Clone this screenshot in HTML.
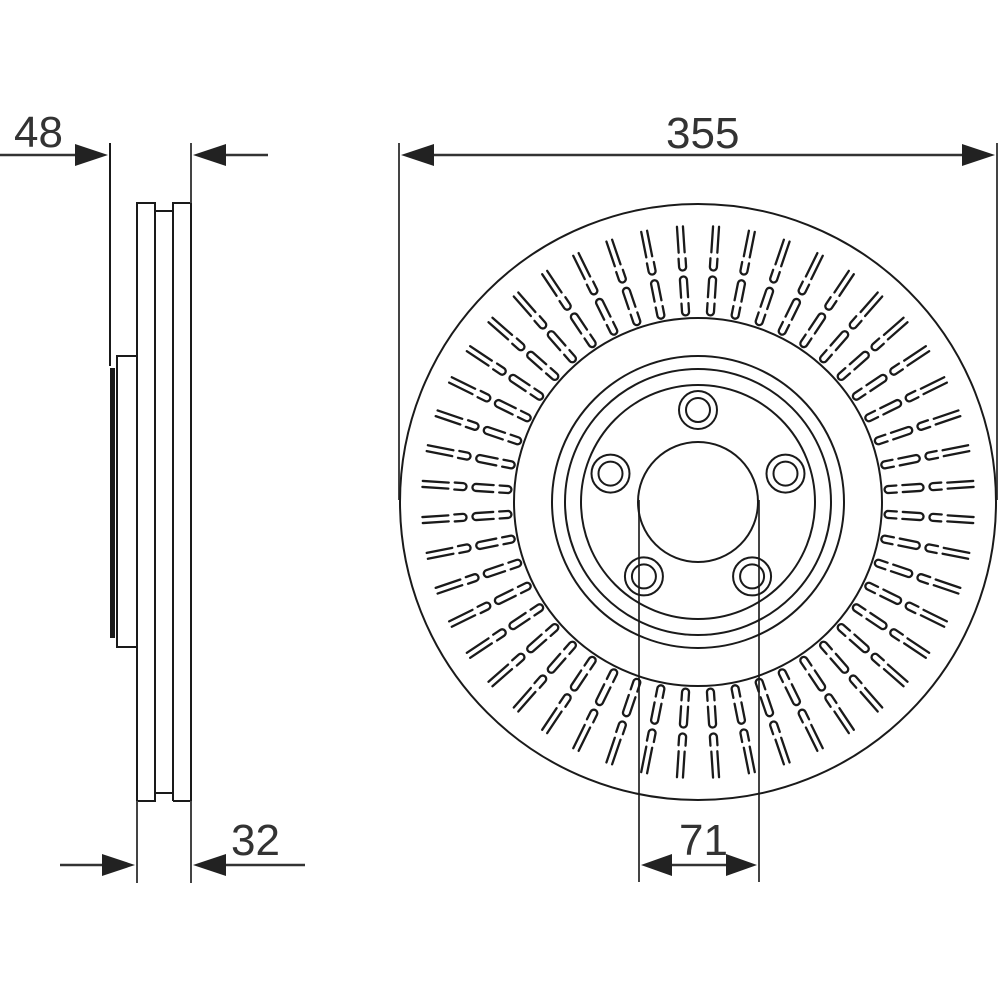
<!DOCTYPE html>
<html><head><meta charset="utf-8"><style>
html,body{margin:0;padding:0;background:#fff;}
svg{display:block;}
text{font-family:"Liberation Sans",sans-serif;font-size:44px;fill:#333;}
</style></head><body>
<svg id="s" width="1000" height="1000" viewBox="0 0 1000 1000" xmlns="http://www.w3.org/2000/svg">
<g fill="none" stroke="#1a1a1a" stroke-width="2">
  <polyline points="137,801 137,203 155,203 155,801 137,801"/>
  <polyline points="155,211 173,211 173,793 155,793"/>
  <polyline points="173,801 173,203 191,203 191,801 173,801"/>
  <polyline points="137,356 117,356 117,647 137,647"/>
  <line x1="110" y1="143" x2="110" y2="366"/>
  <rect x="110" y="368" width="5" height="270" fill="#1a1a1a" stroke="none"/>
  <line x1="137" y1="801" x2="137" y2="883" stroke="#444"/>
  <line x1="191" y1="143" x2="191" y2="203" stroke="#444"/>
  <line x1="191" y1="801" x2="191" y2="883" stroke="#444"/>
  <line x1="0" y1="155" x2="80" y2="155" stroke="#333" stroke-width="2.5"/>
  <line x1="220" y1="155" x2="268" y2="155" stroke="#333" stroke-width="2.5"/>
  <line x1="60" y1="865" x2="110" y2="865" stroke="#333" stroke-width="2.5"/>
  <line x1="220" y1="865" x2="305" y2="865" stroke="#333" stroke-width="2.5"/>
  <line x1="399" y1="143" x2="399" y2="500" stroke="#444"/>
  <line x1="997" y1="143" x2="997" y2="500" stroke="#444"/>
  <line x1="425" y1="155" x2="970" y2="155" stroke="#333" stroke-width="2.5"/>
  <line x1="639" y1="500" x2="639" y2="882" stroke="#444"/>
  <line x1="759" y1="500" x2="759" y2="882" stroke="#444"/>
  <line x1="665" y1="865" x2="735" y2="865" stroke="#333" stroke-width="2.5"/>
  <circle cx="698" cy="502" r="298"/>
  <circle cx="698" cy="502" r="184"/>
  <circle cx="698" cy="502" r="146"/>
  <circle cx="698" cy="502" r="133"/>
  <circle cx="698" cy="502" r="117"/>
  <circle cx="698" cy="502" r="60"/>
  <g id="holes"></g>
  <g id="vents" stroke-width="2.3" stroke-linecap="round"></g>
</g>
<g fill="#222">
  <polygon points="108,155 75,144 75,166"/>
  <polygon points="193,155 226,144 226,166"/>
  <polygon points="135,865 102,854 102,876"/>
  <polygon points="193,865 226,854 226,876"/>
  <polygon points="401,155 434,144 434,166"/>
  <polygon points="995,155 962,144 962,166"/>
  <polygon points="641,865 672,854 672,876"/>
  <polygon points="757,865 726,854 726,876"/>
</g>
<text x="14" y="147">48</text>
<text x="666" y="148">355</text>
<text x="231" y="855">32</text>
<text x="679" y="855">71</text>
</svg>
<script>
var NS="http://www.w3.org/2000/svg",cx=698,cy=502;
var h=document.getElementById("holes");
for(var i=0;i<5;i++){var a=(-90+72*i)*Math.PI/180,x=cx+92*Math.cos(a),y=cy+92*Math.sin(a);
[19,12].forEach(function(r){var c=document.createElementNS(NS,"circle");c.setAttribute("cx",x);c.setAttribute("cy",y);c.setAttribute("r",r);h.appendChild(c);});}
var v=document.getElementById("vents"),w=3.5,d="";
function hp(r1,r2,closedInner){
 if(closedInner) return "M"+r2+","+(-w)+" L"+(r1+w)+","+(-w)+" A"+w+","+w+" 0 0 0 "+(r1+w)+","+w+" L"+r2+","+w+" ";
 return "M"+r1+","+(-w)+" L"+(r2-w)+","+(-w)+" A"+w+","+w+" 0 0 1 "+(r2-w)+","+w+" L"+r1+","+w+" ";}
d+=hp(187,199,true)+hp(205,226,false)+hp(232,244,true)+"M250,-3 L276,-3 M250,3 L276,3";
for(var k=0;k<48;k++){var p=document.createElementNS(NS,"path");p.setAttribute("d",d);
p.setAttribute("transform","translate("+cx+","+cy+") rotate("+(k*7.5+3.75)+")");v.appendChild(p);}
</script>
</body></html>
